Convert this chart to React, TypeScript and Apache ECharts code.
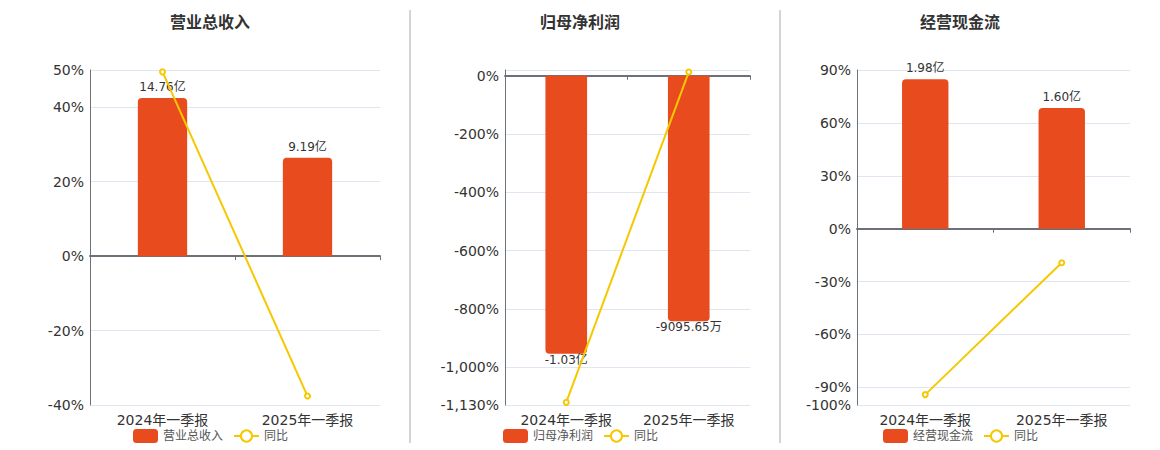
import { useEffect, useRef } from 'react'
import * as echarts from 'echarts'

// Three quarterly panels: bar = absolute amount (亿元), line = 同比 (%)
const QUARTERS = ['2024年一季报', '2025年一季报']

const REVENUE = [14.76, 9.19]
const REVENUE_YOY = [49.5, -37.6]

const NET_PROFIT = [-1.03, -0.909565]
const NET_PROFIT_YOY = [-1121, 13]

const CASH_FLOW = [1.98, 1.6]
const CASH_FLOW_YOY = [-94.1, -19.3]

const TITLES = ['营业总收入', '归母净利润', '经营现金流']

const BAR_COLOR = '#e84c1e'
const LINE_COLOR = '#f5c800'
const AXIS_COLOR = '#6e7079'
const FONT = "'DejaVu Sans', 'Noto Sans CJK SC', sans-serif"

// layout per panel (pixels)
const PANELS = [
  {
    grid: { left: 90, right: 780 },
    titleX: 210,
    legendX: 133,
    pct: { min: -40, max: 50, interval: 20 },
    bar: { min: -13.9, max: 17.38 },
    labelPos: 'top',
  },
  {
    grid: { left: 505, right: 410 },
    titleX: 580,
    legendX: 503,
    pct: { min: -1130, max: 20, splitNumber: 6, showMaxLabel: false },
    bar: { min: -1.22, max: 0.0216 },
    labelPos: 'bottom',
  },
  {
    grid: { left: 857, right: 30 },
    titleX: 960,
    legendX: 883,
    pct: { min: -100, max: 90, splitNumber: 6 },
    bar: { min: -2.335, max: 2.102 },
    labelPos: 'top',
  },
]

const BARS = [REVENUE, NET_PROFIT, CASH_FLOW]
const YOYS = [REVENUE_YOY, NET_PROFIT_YOY, CASH_FLOW_YOY]

function fmtAmount(v: number): string {
  return Math.abs(v) >= 1 ? `${v.toFixed(2)}亿` : `${(v * 1e4).toFixed(2)}万`
}

function fmtPct(v: number): string {
  return `${v.toLocaleString('en-US')}%`
}

function buildOption(): echarts.EChartsOption {
  const grid: any[] = []
  const xAxis: any[] = []
  const yAxis: any[] = []
  const series: any[] = []
  const title: any[] = []
  const legend: any[] = []

  PANELS.forEach((p, i) => {
    grid.push({ left: p.grid.left, right: p.grid.right, top: 70, bottom: 45 })

    // zero line with ticks
    xAxis.push({
      type: 'category',
      gridIndex: i,
      data: QUARTERS,
      axisLine: { onZero: true, lineStyle: { color: AXIS_COLOR, width: 2 } },
      axisTick: { show: true, length: 4, lineStyle: { color: AXIS_COLOR } },
      axisLabel: { show: false },
    })
    // bottom labels
    xAxis.push({
      type: 'category',
      gridIndex: i,
      position: 'bottom',
      data: QUARTERS,
      axisLine: { show: false, onZero: false },
      axisTick: { show: false },
      axisLabel: { color: '#333', fontSize: 14, fontFamily: FONT, margin: 8 },
    })

    const { showMaxLabel, ...range } = p.pct as any
    yAxis.push({
      type: 'value',
      gridIndex: i,
      position: 'left',
      ...range,
      axisLine: { show: true, lineStyle: { color: AXIS_COLOR, width: 1 } },
      axisTick: { show: false },
      axisLabel: {
        color: '#333',
        fontSize: 14,
        fontFamily: FONT,
        margin: 6,
        formatter: fmtPct,
        showMaxLabel: showMaxLabel,
      },
      splitLine: { lineStyle: { color: '#e0e6f1' } },
    })
    yAxis.push({
      type: 'value',
      gridIndex: i,
      position: 'right',
      show: false,
      min: p.bar.min,
      max: p.bar.max,
      splitLine: { show: false },
    })

    const neg = BARS[i][0] < 0
    series.push({
      name: TITLES[i],
      type: 'bar',
      xAxisIndex: i * 2 + 1,
      yAxisIndex: i * 2 + 1,
      data: BARS[i],
      barWidth: '34%',
      itemStyle: {
        color: BAR_COLOR,
        borderRadius: neg ? [0, 0, 4, 4] : [4, 4, 0, 0],
      },
      label: {
        show: true,
        position: p.labelPos,
        distance: neg ? 0 : 5,
        color: '#333',
        fontSize: 12,
        fontFamily: FONT,
        formatter: (d: any) => fmtAmount(d.value),
      },
      z: 2,
    })
    series.push({
      name: '同比',
      type: 'line',
      xAxisIndex: i * 2 + 1,
      yAxisIndex: i * 2,
      data: YOYS[i],
      symbol: 'emptyCircle',
      symbolSize: 5,
      itemStyle: { color: LINE_COLOR },
      lineStyle: { color: LINE_COLOR, width: 2 },
      z: 3,
    })

    title.push({
      text: TITLES[i],
      left: p.titleX,
      textAlign: 'center',
      top: 14,
      padding: 0,
      textStyle: { fontSize: 16, fontWeight: 'bold', color: '#333', fontFamily: FONT },
    })
    legend.push({
      left: p.legendX,
      top: 429,
      itemWidth: 25,
      itemHeight: 14,
      itemGap: 10,
      padding: 0,
      data: [TITLES[i], '同比'],
      textStyle: { fontSize: 12, color: '#555', fontFamily: FONT },
    })
  })

  return {
    animation: false,
    backgroundColor: '#fff',
    textStyle: { fontFamily: FONT },
    title,
    legend,
    grid,
    xAxis,
    yAxis,
    series,
    graphic: [410, 780].map((x) => ({
      type: 'line',
      shape: { x1: x, y1: 10, x2: x, y2: 443 },
      style: { stroke: '#aaa', lineWidth: 1 },
    })),
  }
}

function Chart() {
  const ref = useRef<HTMLDivElement>(null)

  useEffect(() => {
    const el = ref.current
    if (!el) return
    const chart = echarts.init(el, undefined, { renderer: 'svg' })
    chart.setOption(buildOption())
    return () => chart.dispose()
  }, [])

  return (
    <div
      ref={ref}
      style={{ position: 'absolute', left: 0, top: 0, width: 1160, height: 450 }}
    />
  )
}

export default function App() {
  return <Chart />
}
